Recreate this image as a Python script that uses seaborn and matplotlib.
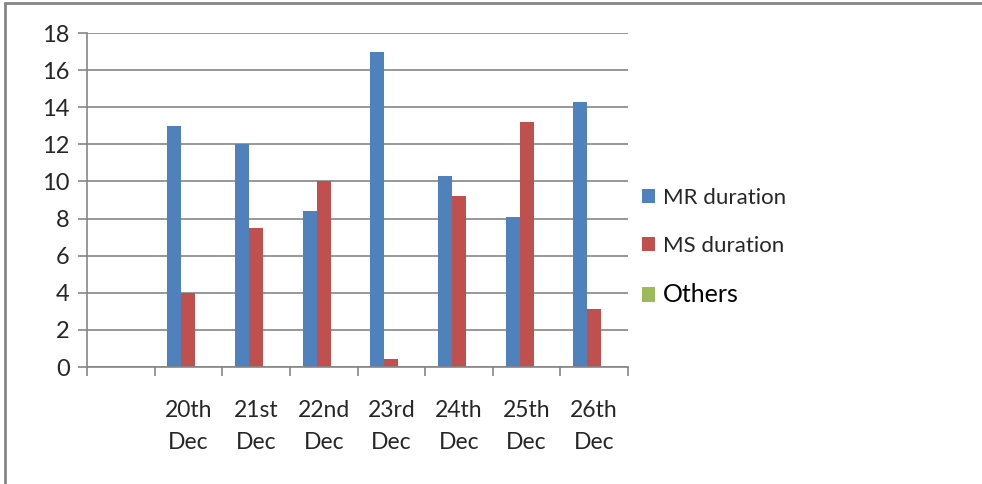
import pandas as pd
import seaborn as sns
import matplotlib.pyplot as plt
from matplotlib.patches import Patch
from matplotlib.lines import Line2D
from matplotlib.ticker import FixedLocator

# categories (the first one is an empty slot in the original sheet)
days = ["", "20th\nDec", "21st\nDec", "22nd\nDec", "23rd\nDec", "24th\nDec", "25th\nDec", "26th\nDec"]
mr_duration = [0, 13.0, 12.0, 8.4, 17.0, 10.3, 8.1, 14.3]
ms_duration = [0, 4.0, 7.5, 10.05, 0.45, 9.2, 13.2, 3.15]
others = [0, 0, 0, 0, 0, 0, 0, 0]
series_names = ["MR duration", "MS duration", "Others"]
colors = ["#4F81BD", "#C0504D", "#9BBB59"]

rows = []
for name, vals in zip(series_names, [mr_duration, ms_duration, others]):
    for d, v in zip(days, vals):
        rows.append({"day": d, "value": v, "series": name})
df = pd.DataFrame(rows)

sns.set_style("white")
plt.rcParams['font.family'] = ['Lato', 'DejaVu Sans']

fig = plt.figure(figsize=(9.82, 4.84), dpi=100)
ax = fig.add_axes([87 / 982, 1 - 367 / 484, (628 - 87) / 982, (367 - 33) / 484])

sns.barplot(data=df, x="day", y="value", hue="series", order=days,
            hue_order=series_names, palette=colors, saturation=1, width=0.62,
            linewidth=0, legend=False, ax=ax)

grey = "#868686"
ax.set_ylim(0, 18)
ax.set_xlim(-0.5, len(days) - 0.5)
ax.set_yticks(range(0, 19, 2))
ax.yaxis.grid(True, color=grey, linewidth=1.2)
ax.set_axisbelow(True)
ax.set_xlabel("")
ax.set_ylabel("")

for s in ["top", "right"]:
    ax.spines[s].set_visible(False)
for s in ["left", "bottom"]:
    ax.spines[s].set_color(grey)
    ax.spines[s].set_linewidth(1.2)

ax.tick_params(axis="y", which="major", length=6.5, color=grey, width=1.2,
               labelsize=17, labelcolor="#262626", pad=6, left=True)
ax.tick_params(axis="x", which="major", length=0, labelsize=16.5,
               labelcolor="#262626", pad=24)
ax.xaxis.set_minor_locator(FixedLocator([i - 0.5 for i in range(len(days) + 1)]))
ax.tick_params(axis="x", which="minor", length=6.5, color=grey, width=1.2, bottom=True)
for lbl in ax.get_xticklabels():
    lbl.set_linespacing(1.6)

handles = [Patch(facecolor=c, edgecolor="none") for c in colors]
leg = fig.legend(handles, series_names, loc="center left",
                 bbox_to_anchor=(622 / 982, 1 - 247 / 484), frameon=False,
                 fontsize=16, handlelength=0.6, handleheight=0.6,
                 handletextpad=0.35, labelspacing=1.25)
for t in leg.get_texts():
    t.set_color("#262626")
leg.get_texts()[2].set_color("black")
leg.get_texts()[2].set_fontsize(18)

# outer chart frame
fig.add_artist(Line2D([5 / 982, 1], [1 - 3 / 484] * 2, color=grey, linewidth=2,
                      transform=fig.transFigure))
fig.add_artist(Line2D([5 / 982] * 2, [0, 1 - 3 / 484], color=grey, linewidth=2,
                      transform=fig.transFigure))

fig.savefig("out.png", dpi=100)
